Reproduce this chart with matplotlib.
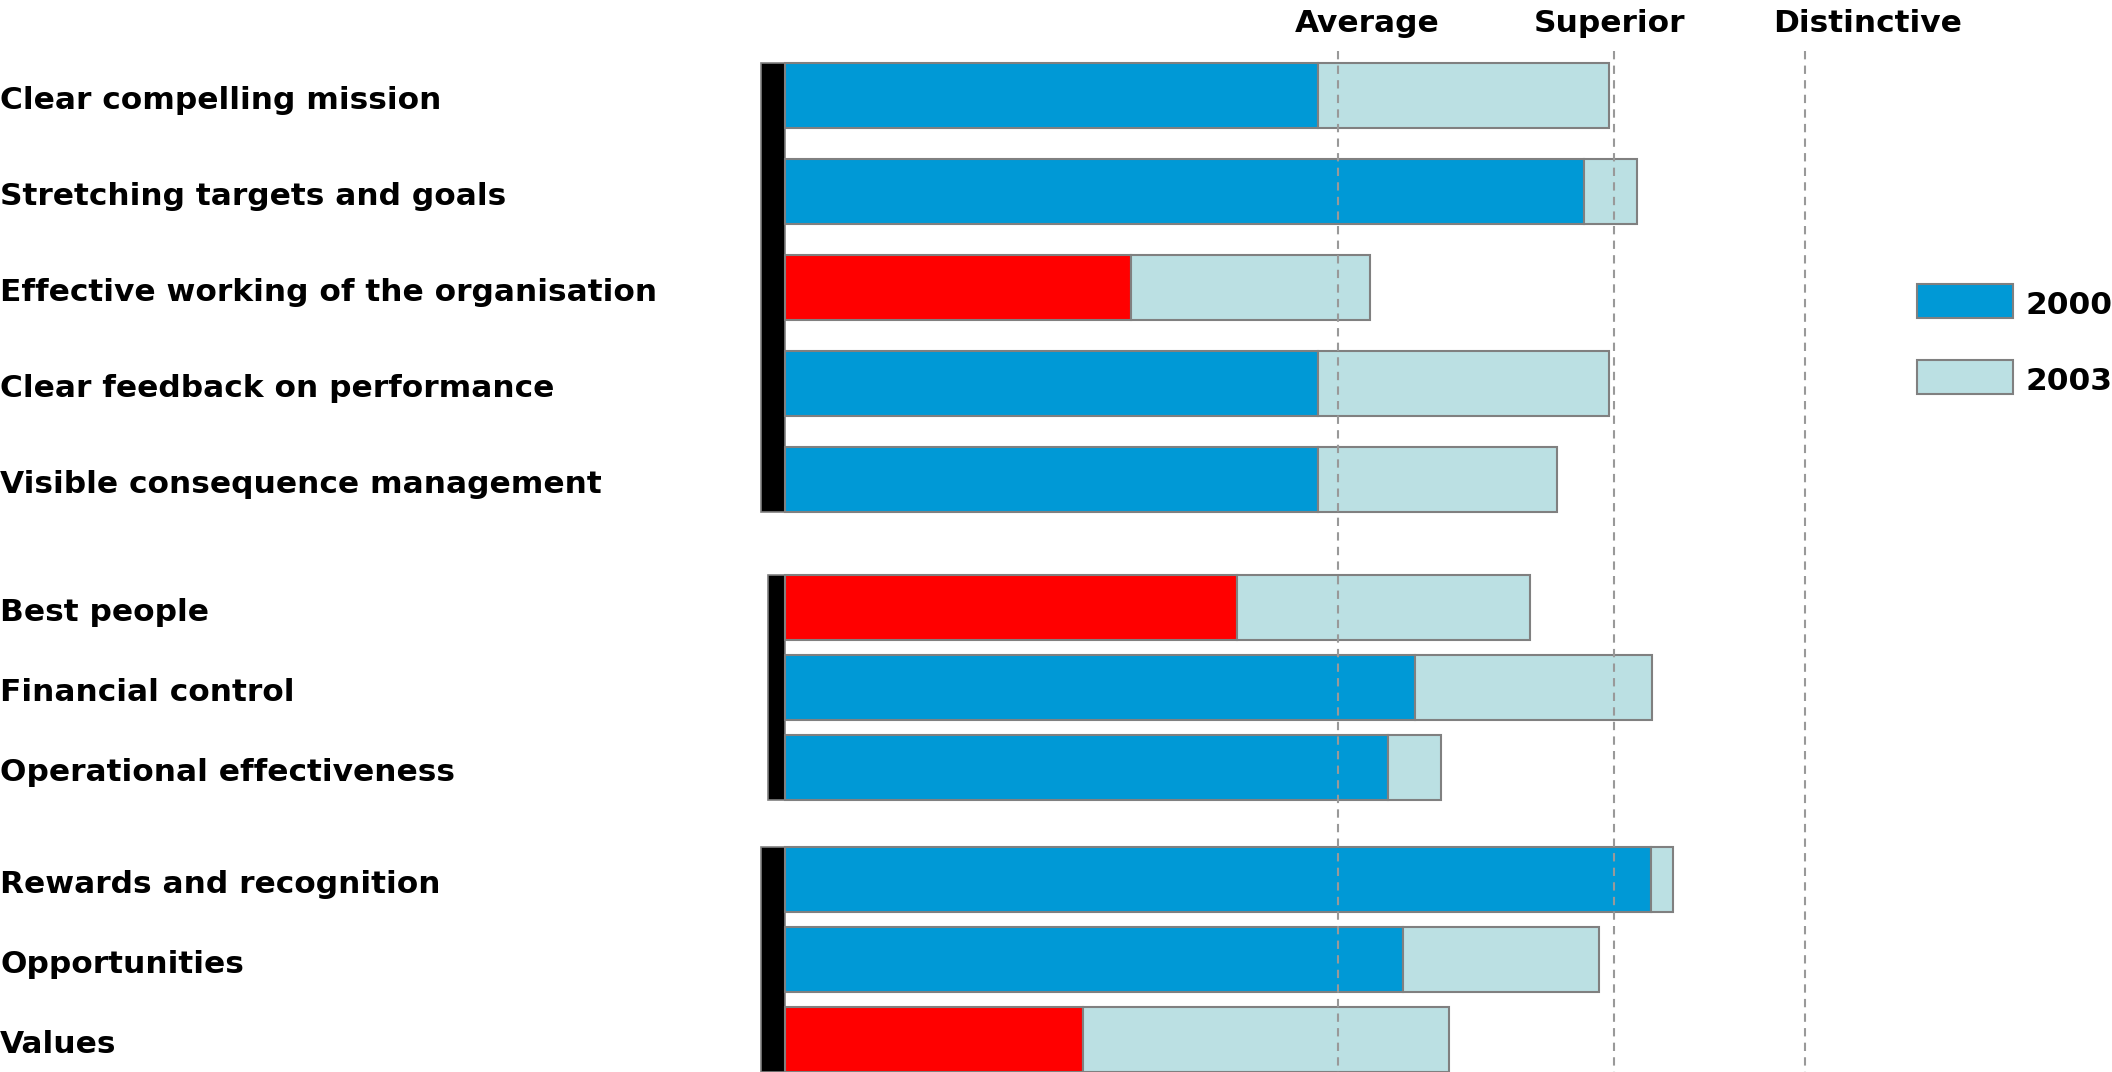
import matplotlib
matplotlib.use("Agg")
import matplotlib.pyplot as plt
from matplotlib.patches import Rectangle
from matplotlib.transforms import blended_transform_factory

# data
groups = [
    ["Clear compelling mission", "Stretching targets and goals",
     "Effective working of the organisation", "Clear feedback on performance",
     "Visible consequence management"],
    ["Best people", "Financial control", "Operational effectiveness"],
    ["Rewards and recognition", "Opportunities", "Values"],
]
score_2000 = [48.2, 72.3, 31.3, 48.2, 48.2, 40.9, 57.0, 54.6, 78.4, 55.9, 27.0]
score_2003 = [74.6, 77.1, 52.9, 74.6, 69.9, 67.4, 78.5, 59.4, 80.4, 73.7, 60.1]
below_average_2000 = [False, False, True, False, False, True, False, False, False, False, True]
benchmarks = ["Average", "Superior", "Distinctive"]
benchmark_values = [50, 75, 92.3]
benchmark_label_x = [52.7, 74.6, 98.0]
legend_years = ["2000", "2003"]

# style
BLUE = "#0099d6"
LIGHT = "#bbe0e3"
RED = "#ff0000"
EDGE = "#808080"
plt.rcParams["font.family"] = ["DejaVu Sans"]
FS = 22.5

W, H = 2112, 1072
fig = plt.figure(figsize=(W / 100, H / 100), dpi=100)
ax = fig.add_axes([0, 0, 1, 1])
ax.set_axis_off()

# layout: x in score units, y in pixels
x0_px, px_per_unit = 785, 11.05
ax.set_xlim(-x0_px / px_per_unit, (W - x0_px) / px_per_unit)
ax.set_ylim(H, 0)

group_start = [95.6, 607.5, 879.6]
group_pitch = [96, 80, 80]
group_bracket_w = [2.2, 1.5, 2.2]
bar_h = 65

trans_lbl = blended_transform_factory(ax.transAxes, ax.transData)
i = 0
for g, names in enumerate(groups):
    ys = [group_start[g] + k * group_pitch[g] for k in range(len(names))]
    # black bracket on the left of each group
    ax.barh((ys[0] + ys[-1]) / 2, group_bracket_w[g], left=-group_bracket_w[g],
            height=ys[-1] - ys[0] + bar_h, color="black", edgecolor=EDGE,
            linewidth=1.2, zorder=2)
    for k, name in enumerate(names):
        y = ys[k]
        c1 = RED if below_average_2000[i] else BLUE
        ax.barh(y, score_2000[i], height=bar_h, color=c1, edgecolor=EDGE,
                linewidth=1.5, zorder=2)
        ax.barh(y, score_2003[i] - score_2000[i], left=score_2000[i], height=bar_h,
                color=LIGHT, edgecolor=EDGE, linewidth=1.5, zorder=2)
        ax.text(0, y + 5, name, transform=trans_lbl, fontsize=FS, fontweight="bold",
                ha="left", va="center")
        i += 1

# benchmark lines
for v, lx, lab in zip(benchmark_values, benchmark_label_x, benchmarks):
    ax.plot([v, v], [51, H], color="#999999", linestyle=(0, (4, 3)),
            linewidth=1.5, zorder=3)
    ax.text(lx, 24, lab, fontsize=FS, fontweight="bold", ha="center", va="center")

# legend
trans_fig = fig.transFigure
for k, (yr, col) in enumerate(zip(legend_years, [BLUE, LIGHT])):
    ytop = 284 + k * 76
    fig.patches.append(Rectangle((1917 / W, 1 - (ytop + 34) / H), 96 / W, 34 / H,
                                 transform=trans_fig, facecolor=col,
                                 edgecolor=EDGE, linewidth=1.5))
    fig.text(2025 / W, 1 - (ytop + 22) / H, yr, fontsize=FS, fontweight="bold",
             ha="left", va="center")

fig.savefig("out.png", dpi=100)
